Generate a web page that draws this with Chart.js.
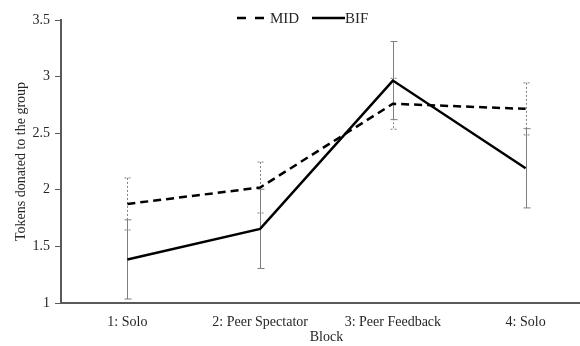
<!DOCTYPE html>
<html>
<head>
<meta charset="utf-8">
<script src="https://cdn.jsdelivr.net/npm/chart.js@4"></script>
<style>
  html, body { margin: 0; padding: 0; background: #fff; overflow: hidden; }
  #wrap { width: 592px; height: 346px; }
</style>
</head>
<body>
<div id="wrap"><canvas id="chart"></canvas></div>
<script>
//categories and values
const blocks = ["1: Solo", "2: Peer Spectator", "3: Peer Feedback", "4: Solo"];
const midValues = [1.875, 2.02, 2.76, 2.715];
const bifValues = [1.385, 1.655, 2.965, 2.19];
//error bar half lengths
const midErrors = [0.23, 0.225, 0.225, 0.23];
const bifErrors = [0.35, 0.35, 0.345, 0.35];
const yTicks = [1, 1.5, 2, 2.5, 3, 3.5];

const serif = "'Liberation Serif', 'Times New Roman', serif";
const textColor = "#262626";

//error bars drawn under the lines
const errorBars = {
  id: "errorBars",
  beforeDatasetsDraw(chart) {
    const ctx = chart.ctx;
    const x = chart.scales.x;
    const y = chart.scales.y;
    const sets = [
      { vals: midValues, errs: midErrors, dash: [2, 2] },
      { vals: bifValues, errs: bifErrors, dash: [] },
    ];
    ctx.save();
    ctx.strokeStyle = "#7f7f7f";
    ctx.lineWidth = 1;
    for (let s of sets) {
      ctx.setLineDash(s.dash);
      s.vals.forEach((v, i) => {
        const px = Math.round(x.getPixelForValue(i)) + 0.5;
        const top = y.getPixelForValue(v + s.errs[i]);
        const bot = y.getPixelForValue(v - s.errs[i]);
        ctx.beginPath();
        ctx.moveTo(px, top);
        ctx.lineTo(px, bot);
        ctx.moveTo(px - 3, top);
        ctx.lineTo(px + 4, top);
        ctx.moveTo(px - 3, bot);
        ctx.lineTo(px + 4, bot);
        ctx.stroke();
      });
    }
    ctx.restore();
  },
};

//legend drawn over the top of the plot
const topLegend = {
  id: "topLegend",
  afterDraw(chart) {
    const ctx = chart.ctx;
    const yy = 18;
    ctx.save();
    ctx.strokeStyle = "#000";
    ctx.lineWidth = 2.5;
    ctx.setLineDash([9, 9]);
    ctx.beginPath();
    ctx.moveTo(237, yy);
    ctx.lineTo(265, yy);
    ctx.stroke();
    ctx.setLineDash([]);
    ctx.beginPath();
    ctx.moveTo(312, yy);
    ctx.lineTo(345, yy);
    ctx.stroke();
    ctx.fillStyle = textColor;
    ctx.font = "15px " + serif;
    ctx.textBaseline = "middle";
    ctx.fillText("MID", 270, yy + 1);
    ctx.fillText("BIF", 345, yy + 1);
    ctx.restore();
  },
};

new Chart(document.getElementById("chart"), {
  type: "line",
  plugins: [errorBars, topLegend],
  data: {
    labels: blocks,
    datasets: [
      {
        label: "MID",
        data: midValues,
        borderColor: "#000",
        borderWidth: 2.5,
        borderDash: [8, 5],
        pointRadius: 0,
        tension: 0,
      },
      {
        label: "BIF",
        data: bifValues,
        borderColor: "#000",
        borderWidth: 2.5,
        pointRadius: 0,
        tension: 0,
      },
    ],
  },
  options: {
    responsive: true,
    maintainAspectRatio: false,
    animation: false,
    layout: { padding: { top: 20, left: 0, right: 0, bottom: 0 } },
    plugins: {
      legend: { display: false },
      tooltip: { enabled: false },
    },
    scales: {
      x: {
        offset: true,
        afterFit: (s) => { s.height = 43; },
        grid: { display: false, drawTicks: false },
        border: { color: "#595959", width: 2 },
        ticks: { color: textColor, font: { family: serif, size: 14 }, padding: 11, maxRotation: 0 },
        title: { display: true, text: "Block", color: textColor, font: { family: serif, size: 14 }, padding: { top: 2, bottom: 0 } },
      },
      y: {
        min: 1,
        max: 3.5,
        afterFit: (s) => { s.width = 61; },
        afterBuildTicks: (s) => { s.ticks = yTicks.map((v) => ({ value: v })); },
        grid: { drawOnChartArea: false, drawTicks: true, tickLength: 6, color: "#595959" },
        border: { color: "#595959", width: 2 },
        ticks: { color: textColor, font: { family: serif, size: 14 }, padding: 5, callback: (v) => String(v) },
        title: { display: true, text: "Tokens donated to the group", color: textColor, font: { family: serif, size: 14 }, padding: { top: 13, bottom: 0 } },
      },
    },
  },
});
</script>
</body>
</html>
